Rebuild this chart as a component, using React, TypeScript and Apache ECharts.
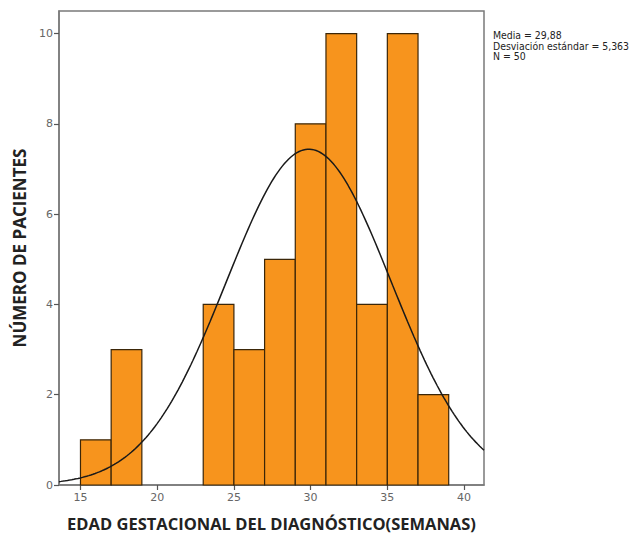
import React, { useEffect, useRef } from "react";
import * as echarts from "echarts";

// Histogram bins (start, end) in weeks and counts
const binStarts = [15, 17, 19, 21, 23, 25, 27, 29, 31, 33, 35, 37];
const binWidth = 2;
const counts = [1, 3, 0, 0, 4, 3, 5, 8, 10, 4, 10, 2];

// Summary statistics shown in the chart
const mean = 29.88;
const sd = 5.363;
const n = 50;

const xTicks = [15, 20, 25, 30, 35, 40];
const yTicks = [0, 2, 4, 6, 8, 10];

const statsLines = ["Media = 29,88", "Desviación estándar = 5,363", "N = 50"];

const xMin = 13.6;
const xMax = 41.3;

export default function App() {
  const ref = useRef<HTMLDivElement>(null);
  useEffect(() => {
    if (!ref.current) return;
    const chart = echarts.init(ref.current, null, { renderer: "svg" });

    const bars = binStarts.map((s, i) => [s, s + binWidth, counts[i]]).filter((d) => d[2] > 0);

    // Fitted normal curve from the displayed mean and sd (scaled to N * bin width)
    const curve: number[][] = [];
    const steps = 200;
    for (let i = 0; i <= steps; i++) {
      const x = xMin + ((xMax - xMin) * i) / steps;
      const z = (x - mean) / sd;
      const y = (n * binWidth) / (sd * Math.sqrt(2 * Math.PI)) * Math.exp(-0.5 * z * z);
      curve.push([x, y]);
    }

    chart.setOption({
      animation: false,
      backgroundColor: "#ffffff",
      grid: {
        left: 59,
        top: 11,
        right: 155,
        bottom: 49,
        show: true,
        borderColor: "#7a7a7a",
        borderWidth: 1.5,
        backgroundColor: "transparent",
      },
      xAxis: {
        type: "value",
        min: xMin,
        max: xMax,
        interval: 5,
        splitLine: { show: false },
        axisLine: { show: true, onZero: false, lineStyle: { color: "#7a7a7a", width: 1.5 } },
        axisTick: {
          show: true,
          length: 5,
          lineStyle: { color: "#555", width: 1.2 },
          customValues: xTicks,
        },
        axisLabel: {
          color: "#666",
          fontSize: 11,
          fontFamily: "DejaVu Sans",
          margin: 7,
          customValues: xTicks,
        },
        name: "EDAD GESTACIONAL DEL DIAGNÓSTICO(SEMANAS)",
        nameLocation: "middle",
        nameGap: 30,
        nameTextStyle: {
          color: "#222",
          fontSize: 16.5,
          fontWeight: "bold",
          fontFamily: "Open Sans",
        },
      },
      yAxis: {
        type: "value",
        min: 0,
        max: 10.5,
        interval: 2,
        splitLine: { show: false },
        axisLine: { show: true, lineStyle: { color: "#7a7a7a", width: 1.5 } },
        axisTick: {
          show: true,
          length: 5,
          lineStyle: { color: "#555", width: 1.2 },
          customValues: yTicks,
        },
        axisLabel: {
          color: "#666",
          fontSize: 11,
          fontFamily: "DejaVu Sans",
          margin: 6,
          customValues: yTicks,
        },
        name: "NÚMERO DE PACIENTES",
        nameLocation: "middle",
        nameGap: 30,
        nameTextStyle: {
          color: "#222",
          fontSize: 17,
          fontWeight: "bold",
          fontFamily: "Open Sans",
        },
      },
      graphic: [
        {
          type: "text",
          left: 493,
          top: 30,
          style: {
            text: statsLines.join("\n"),
            fontSize: 10.4,
            lineHeight: 10.5,
            fontFamily: "DejaVu Sans Condensed, Liberation Sans Narrow, sans-serif",
            fill: "#222",
          },
        },
      ],
      series: [
        {
          type: "custom",
          data: bars,
          encode: { x: [0, 1], y: 2 },
          renderItem: (params: any, api: any) => {
            const p0 = api.coord([api.value(0), api.value(2)]);
            const p1 = api.coord([api.value(1), 0]);
            return {
              type: "rect",
              shape: { x: p0[0], y: p0[1], width: p1[0] - p0[0], height: p1[1] - p0[1] },
              style: { fill: "#F7941D", stroke: "#3b2608", lineWidth: 1.2 },
            };
          },
          z: 2,
        },
        {
          type: "line",
          data: curve,
          showSymbol: false,
          symbol: "none",
          smooth: false,
          lineStyle: { color: "#1a1a1a", width: 1.5 },
          z: 3,
        },
      ],
    });
    return () => chart.dispose();
  }, []);
  return (
    <div style={{ position: "fixed", left: 0, top: 0, width: 639, height: 537, background: "#fff" }}>
      <div ref={ref} style={{ width: 639, height: 537 }} />
    </div>
  );
}
